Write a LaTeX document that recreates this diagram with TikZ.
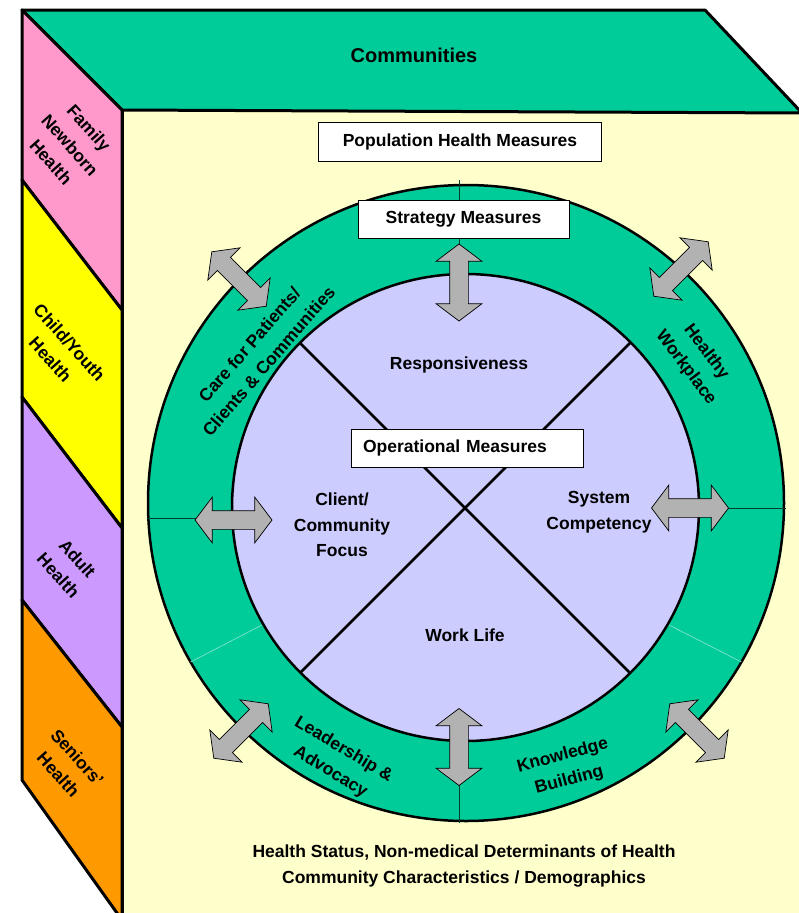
\documentclass[tikz,border=0pt]{standalone}
\usepackage{fontspec}
\setmainfont{Liberation Sans}
\usetikzlibrary{positioning,calc,shapes.arrows}
\definecolor{commgreen}{HTML}{00CC99}
\definecolor{frontyellow}{HTML}{FFFFCC}
\definecolor{familypink}{HTML}{FF99CC}
\definecolor{childyellow}{HTML}{FFFF00}
\definecolor{adultpurple}{HTML}{CC99FF}
\definecolor{seniororange}{HTML}{FF9900}
\definecolor{opslavender}{HTML}{CCCCFF}
\definecolor{arrowgray}{HTML}{B2B2B2}
\begin{document}
\begin{tikzpicture}[x=1pt,y=-1pt,
        label/.style={font=\bfseries\fontsize{17.5}{25.5}\selectfont,align=center,inner sep=0pt},
        measurebox/.style={rectangle,draw=black,line width=0.8pt,fill=white,font=\bfseries\fontsize{17.5}{21}\selectfont},
        twoway/.style={double arrow,draw=black,line width=0.7pt,fill=arrowgray,minimum height=77pt,inner xsep=0pt,inner ysep=9pt,double arrow head extend=13.5pt,double arrow tip angle=106}]
        \clip (0,0) rectangle (799,913);
        \fill[white] (0,0) rectangle (799,913);

        \fill[frontyellow] (122,110) rectangle (810,920);
        \draw[line width=3pt,fill=commgreen,line join=round] (22,10) -- (705,10) -- (802,113) -- (122,110) -- cycle;
        \draw[line width=3pt] (122,110) -- (122,920);
        \draw[line width=3pt,fill=familypink,line join=round] (22,10) -- (122,110) -- (122,310) -- (22,180) -- cycle;
        \draw[line width=3pt,fill=childyellow,line join=round] (22,180) -- (122,310) -- (122,528) -- (22,397) -- cycle;
        \draw[line width=3pt,fill=adultpurple,line join=round] (22,397) -- (122,528) -- (122,727) -- (22,600) -- cycle;
        \draw[line width=3pt,fill=seniororange,line join=round] (22,600) -- (122,727) -- (122,920) -- (22,780) -- cycle;

        \node[label,font=\bfseries\fontsize{20}{24}\selectfont] (communities) at (414,55) {Communities};
        \node[label,rotate=-48] (panel-family) at (70,145) {Family\\Newborn\\Health};
        \node[label,rotate=-48] (panel-child) at (60,351) {Child/Youth\\Health};
        \node[label,rotate=-48] (panel-adult) at (68,567) {Adult\\Health};
        \node[label,rotate=-48] (panel-senior) at (68,766) {Seniors’\\Health};

        \draw[line width=2.5pt,fill=commgreen] (466,503) circle[radius=318pt];
        \draw[line width=0.8pt,black!70!commgreen] (459,180) -- (459,275) (459,740) -- (459,823) (147,518) -- (235,518) (698,508) -- (786,508);
        \draw[line width=0.6pt,white!55!commgreen] (263.3,624.3) -- (190.6,662) (667.7,624.3) -- (741.4,662);
        \draw[line width=2.5pt,fill=opslavender] (465.5,507.5) circle[radius=233.5pt];
        \draw[line width=2.5pt] (300,343) -- (630,673) (630,343) -- (300,673);

        \node[label,rotate=49] (ring-care) at (259,353) {Care for Patients/\\Clients \& Communities};
        \node[label,rotate=-53] (ring-workplace) at (696,360) {Healthy\\Workplace};
        \node[label,rotate=-31] (ring-leadership) at (337,761) {Leadership \&\\Advocacy};
        \node[label,rotate=15] (ring-knowledge) at (566,768) {Knowledge\\Building};

        \node[label] (ops-responsiveness) at (459,365) {Responsiveness};
        \node[label] (ops-client) at (342,525) {Client/\\Community\\Focus};
        \node[label] (ops-system) at (599,512) {System\\Competency};
        \node[label] (ops-worklife) at (465,635) {Work Life};

        \node[measurebox,minimum width=283pt,minimum height=39pt] (population) at (460,141.5) {Population Health Measures};
        \node[measurebox,minimum width=211pt,minimum height=38pt] (strategy) at (463.5,219) {Strategy Measures};
        \node[measurebox,text width=208pt,inner xsep=12pt,minimum height=38pt,align=left] (operational) at (467,448) {Operational Measures};

        \node[twoway,rotate=90] (arrow-top) at (459,282.5) {};
        \node[twoway,rotate=90] (arrow-bottom) at (459,747) {};
        \node[twoway] (arrow-left) at (233.5,520) {};
        \node[twoway] (arrow-right) at (690,508) {};
        \node[twoway,rotate=-45] (arrow-upleft) at (239,279) {};
        \node[twoway,rotate=45] (arrow-upright) at (681,269) {};
        \node[twoway,rotate=45] (arrow-lowleft) at (241,731) {};
        \node[twoway,rotate=-45] (arrow-lowright) at (697,731) {};

        \node[label] (determinants) at (464,866) {Health Status, Non-medical Determinants of Health\\Community Characteristics / Demographics};
\end{tikzpicture}
\end{document}
